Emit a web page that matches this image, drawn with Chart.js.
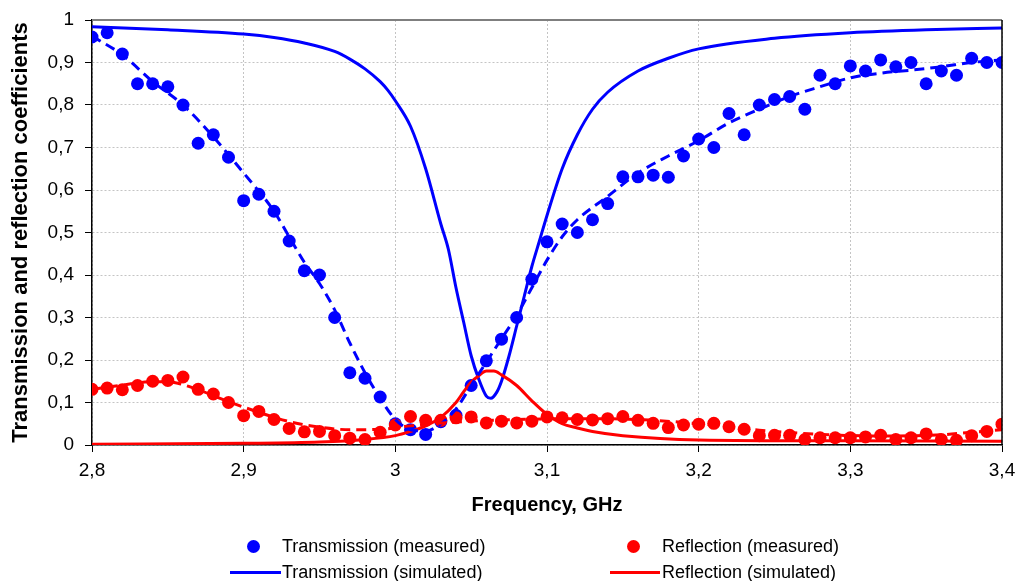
<!DOCTYPE html>
<html>
<head>
<meta charset="utf-8">
<script src="https://cdn.jsdelivr.net/npm/chart.js@4.4.1/dist/chart.umd.min.js"></script>
<style>
  body { margin: 0; background: #fff; }
  #wrap { position: relative; width: 1015px; height: 581px; font-family: 'Liberation Sans', Arial, sans-serif; }
  #chart { position: absolute; left: 0; top: 0; }
  .lg-text { position: absolute; font-size: 18px; line-height: 22px; height: 22px; color: #000; white-space: nowrap; }
  .lg-dot { position: absolute; width: 13px; height: 13px; border-radius: 50%; }
  .lg-line { position: absolute; height: 3px; }
</style>
</head>
<body>
<div id="wrap">
  <canvas id="chart" width="1015" height="581"></canvas>
  <div class="lg-dot" style="left:247px; top:540px; background:#0000ff"></div>
  <div class="lg-text" style="left:282px; top:535px">Transmission (measured)</div>
  <div class="lg-dot" style="left:627px; top:540px; background:#ff0000"></div>
  <div class="lg-text" style="left:662px; top:535px">Reflection (measured)</div>
  <div class="lg-line" style="left:230px; width:51px; top:571px; background:#0000ff"></div>
  <div class="lg-text" style="left:282px; top:561px">Transmission (simulated)</div>
  <div class="lg-line" style="left:610px; width:50px; top:571px; background:#ff0000"></div>
  <div class="lg-text" style="left:662px; top:561px">Reflection (simulated)</div>
</div>
<script>
// Axis ticks
var xTicks = [2.8, 2.9, 3.0, 3.1, 3.2, 3.3, 3.4];
var yTicks = [0, 0.1, 0.2, 0.3, 0.4, 0.5, 0.6, 0.7, 0.8, 0.9, 1];

// Measured frequencies (GHz)
var measFreq = [2.80, 2.81, 2.82, 2.83, 2.84, 2.85, 2.86, 2.87, 2.88, 2.89,
  2.90, 2.91, 2.92, 2.93, 2.94, 2.95, 2.96, 2.97, 2.98, 2.99,
  3.00, 3.01, 3.02, 3.03, 3.04, 3.05, 3.06, 3.07, 3.08, 3.09,
  3.10, 3.11, 3.12, 3.13, 3.14, 3.15, 3.16, 3.17, 3.18, 3.19,
  3.20, 3.21, 3.22, 3.23, 3.24, 3.25, 3.26, 3.27, 3.28, 3.29,
  3.30, 3.31, 3.32, 3.33, 3.34, 3.35, 3.36, 3.37, 3.38, 3.39, 3.40];

var transMeasured = [0.96, 0.97, 0.92, 0.85, 0.85, 0.843, 0.80, 0.71, 0.73, 0.677,
  0.575, 0.59, 0.55, 0.48, 0.41, 0.40, 0.30, 0.17, 0.157, 0.113,
  0.05, 0.036, 0.025, 0.055, 0.07, 0.14, 0.198, 0.249, 0.30, 0.39,
  0.478, 0.52, 0.50, 0.53, 0.568, 0.631, 0.631, 0.635, 0.63, 0.68,
  0.72, 0.70, 0.78, 0.73, 0.80, 0.813, 0.82, 0.79, 0.87, 0.85,
  0.892, 0.88, 0.906, 0.89, 0.90, 0.85, 0.88, 0.87, 0.91, 0.90, 0.90];

var reflMeasured = [0.131, 0.134, 0.13, 0.14, 0.15, 0.152, 0.16, 0.131, 0.12, 0.10,
  0.069, 0.079, 0.06, 0.039, 0.031, 0.032, 0.022, 0.016, 0.013, 0.03,
  0.047, 0.067, 0.058, 0.058, 0.064, 0.066, 0.052, 0.056, 0.052, 0.056,
  0.066, 0.064, 0.06, 0.059, 0.062, 0.067, 0.058, 0.051, 0.041, 0.047,
  0.049, 0.051, 0.043, 0.037, 0.022, 0.023, 0.023, 0.013, 0.017, 0.017,
  0.017, 0.019, 0.023, 0.013, 0.017, 0.026, 0.013, 0.011, 0.022, 0.032, 0.049];

// Simulated transmission
var simTransFreq = [2.80, 2.85, 2.90, 2.92, 2.94, 2.96, 2.97, 2.98, 2.99, 2.995,
  3.00, 3.01, 3.02, 3.03, 3.035, 3.04, 3.045, 3.05, 3.055, 3.06,
  3.063, 3.067, 3.07, 3.075, 3.08, 3.085, 3.09, 3.095, 3.10, 3.11,
  3.12, 3.13, 3.14, 3.16, 3.18, 3.20, 3.25, 3.30, 3.35, 3.40];
var simTrans = [0.984, 0.977, 0.967, 0.959, 0.946, 0.926, 0.908, 0.885, 0.855, 0.835,
  0.81, 0.75, 0.65, 0.52, 0.46, 0.37, 0.29, 0.21, 0.155, 0.115,
  0.11, 0.125, 0.15, 0.21, 0.28, 0.35, 0.42, 0.48, 0.54, 0.65,
  0.73, 0.79, 0.83, 0.88, 0.91, 0.932, 0.957, 0.97, 0.977, 0.981];

// Simulated reflection
var simReflFreq = [2.80, 2.90, 2.95, 2.98, 3.00, 3.01, 3.02, 3.03, 3.04, 3.045,
  3.05, 3.055, 3.06, 3.065, 3.07, 3.08, 3.09, 3.10, 3.11, 3.12,
  3.13, 3.15, 3.20, 3.30, 3.40];
var simRefl = [0.002, 0.004, 0.007, 0.013, 0.022, 0.032, 0.045, 0.065, 0.1, 0.125,
  0.148, 0.163, 0.174, 0.174, 0.165, 0.14, 0.104, 0.072, 0.05, 0.04,
  0.032, 0.022, 0.012, 0.01, 0.009];

// Trend of measured transmission (dashed)
var fitTransFreq = [2.80, 2.82, 2.84, 2.86, 2.88, 2.90, 2.92, 2.93, 2.94, 2.95,
  2.96, 2.97, 2.98, 2.99, 3.00, 3.01, 3.02, 3.03, 3.04, 3.05,
  3.06, 3.07, 3.08, 3.09, 3.10, 3.11, 3.12, 3.14, 3.16, 3.18,
  3.20, 3.22, 3.24, 3.26, 3.28, 3.30, 3.32, 3.34, 3.36, 3.38, 3.40];
var fitTrans = [0.962, 0.918, 0.855, 0.80, 0.725, 0.64, 0.55, 0.49, 0.43, 0.38,
  0.318, 0.24, 0.17, 0.11, 0.06, 0.036, 0.033, 0.05, 0.085, 0.14,
  0.195, 0.25, 0.305, 0.37, 0.435, 0.49, 0.53, 0.585, 0.64, 0.68,
  0.716, 0.758, 0.79, 0.82, 0.843, 0.864, 0.875, 0.882, 0.89, 0.90, 0.906];

// Trend of measured reflection (dashed)
var fitReflFreq = [2.80, 2.82, 2.84, 2.85, 2.86, 2.87, 2.89, 2.91, 2.93, 2.95,
  2.97, 2.99, 3.01, 3.04, 3.08, 3.12, 3.16, 3.20, 3.24, 3.28,
  3.32, 3.36, 3.38, 3.40];
var fitRefl = [0.131, 0.141, 0.149, 0.149, 0.142, 0.13, 0.102, 0.077, 0.055, 0.042,
  0.036, 0.037, 0.045, 0.054, 0.06, 0.062, 0.06, 0.05, 0.035, 0.025,
  0.021, 0.024, 0.03, 0.036];

function pairs(xs, ys) {
  return xs.map(function(x, i) { return { x: x, y: ys[i] }; });
}

function commaLabel(v) {
  return String(Math.round(v * 10) / 10).replace('.', ',');
}

Chart.defaults.font.family = "'Liberation Sans', Arial, sans-serif";
Chart.defaults.color = '#000';

// top and right frame of the plot area
var framePlugin = {
  id: 'frame',
  afterDraw: function(chart) {
    var a = chart.chartArea, ctx = chart.ctx;
    ctx.save();
    ctx.strokeStyle = '#7f7f7f';
    ctx.lineWidth = 2;
    ctx.beginPath();
    ctx.moveTo(a.left, a.top);
    ctx.lineTo(a.right, a.top);
    ctx.stroke();
    ctx.strokeStyle = '#000';
    ctx.lineWidth = 1.5;
    ctx.beginPath();
    ctx.moveTo(a.right, a.top);
    ctx.lineTo(a.right, a.bottom);
    ctx.stroke();
    ctx.restore();
  }
};

var lineStyle = { showLine: true, pointRadius: 0, pointHoverRadius: 0, borderWidth: 3, fill: false, cubicInterpolationMode: 'monotone' };

new Chart(document.getElementById('chart').getContext('2d'), {
  type: 'scatter',
  data: {
    datasets: [
      { label: 'Transmission (measured)', data: pairs(measFreq, transMeasured), order: 11,
        showLine: false, pointRadius: 6.5, pointBorderWidth: 0, backgroundColor: '#0000ff', borderColor: '#0000ff' },
      { label: 'Reflection (measured)', data: pairs(measFreq, reflMeasured), order: 10,
        showLine: false, pointRadius: 6.5, pointBorderWidth: 0, backgroundColor: '#ff0000', borderColor: '#ff0000' },
      Object.assign({}, lineStyle, { label: 'Transmission (simulated)', data: pairs(simTransFreq, simTrans), order: 6, borderColor: '#0000ff' }),
      Object.assign({}, lineStyle, { label: 'Reflection (simulated)', data: pairs(simReflFreq, simRefl), order: 5, borderColor: '#ff0000' }),
      Object.assign({}, lineStyle, { label: 'Transmission trend', data: pairs(fitTransFreq, fitTrans), order: 2, borderColor: '#0000ff', borderDash: [10, 6] }),
      Object.assign({}, lineStyle, { label: 'Reflection trend', data: pairs(fitReflFreq, fitRefl), order: 1, borderColor: '#ff0000', borderDash: [10, 6] })
    ]
  },
  options: {
    responsive: false,
    animation: false,
    layout: { padding: { left: 0, top: 20, right: 13, bottom: 61 } },
    plugins: { legend: { display: false }, tooltip: { enabled: false } },
    scales: {
      x: {
        type: 'linear', min: 2.8, max: 3.4,
        afterBuildTicks: function(scale) { scale.ticks = xTicks.map(function(v) { return { value: v }; }); },
        afterFit: function(scale) { scale.height = 75; scale.paddingLeft = 0; scale.paddingRight = 0; },
        ticks: { font: { size: 19 }, padding: 7, maxRotation: 0, autoSkip: false, callback: commaLabel },
        grid: { color: '#c4c4c4', lineWidth: 1, tickLength: 7, tickColor: '#000', tickBorderDash: [] },
        border: { color: '#000', width: 1.5, dash: [2, 2] },
        title: { display: true, text: 'Frequency, GHz', font: { size: 20, weight: 'bold' }, padding: { top: 4, bottom: 3 } }
      },
      y: {
        type: 'linear', min: 0, max: 1,
        afterBuildTicks: function(scale) { scale.ticks = yTicks.map(function(v) { return { value: v }; }); },
        afterFit: function(scale) { scale.width = 92; scale.paddingTop = 0; scale.paddingBottom = 0; },
        ticks: { font: { size: 19 }, padding: 11, autoSkip: false, callback: commaLabel },
        grid: { color: '#c4c4c4', lineWidth: 1, tickLength: 7, tickColor: '#000', tickBorderDash: [] },
        border: { color: '#000', width: 1.5, dash: [2, 2] },
        title: { display: true, text: 'Transmission and reflection coefficients', font: { size: 22, weight: 'bold' }, padding: { top: 8, bottom: 4 } }
      }
    }
  },
  plugins: [framePlugin]
});
</script>
</body>
</html>
